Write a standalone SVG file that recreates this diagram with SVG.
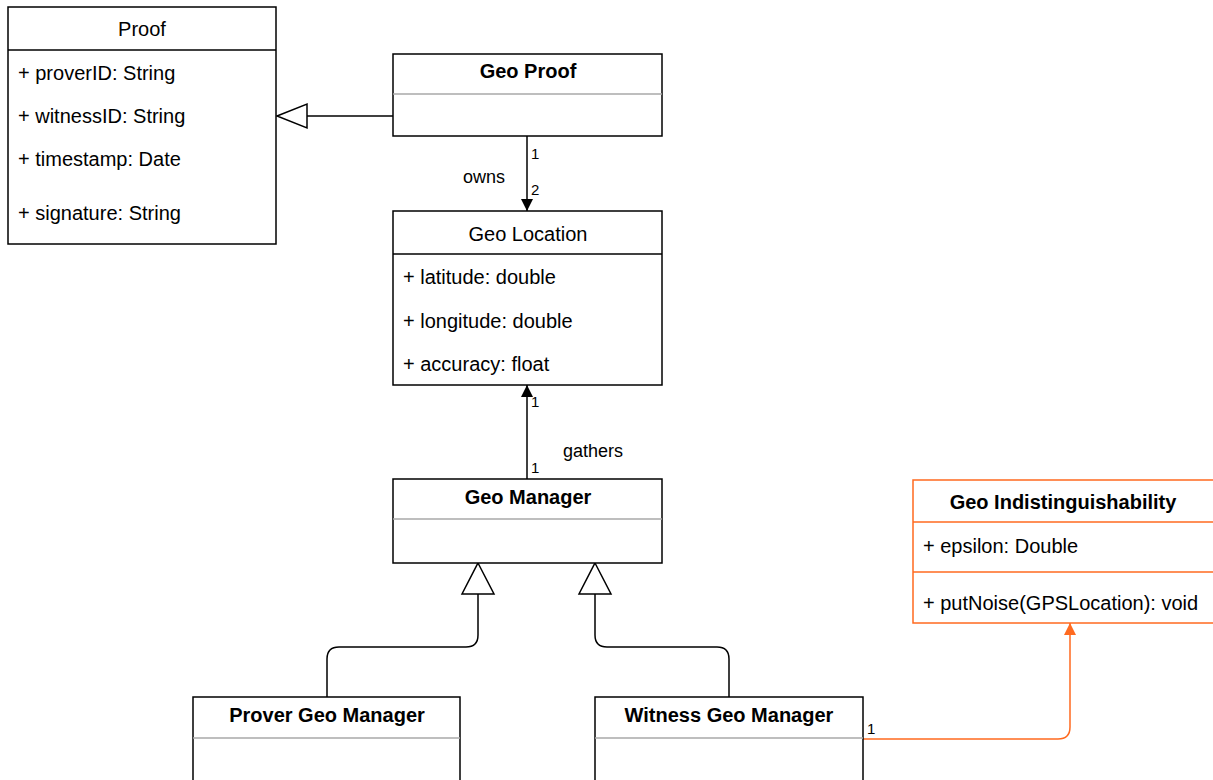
<svg xmlns="http://www.w3.org/2000/svg" width="1213" height="780" viewBox="0 0 1213 780">
  <style>
    .box { fill: #ffffff; stroke: #000000; stroke-width: 1.5; }
    .sep { stroke: #000000; stroke-width: 1.5; }
    .soft { stroke: #a8a8a8; stroke-width: 1.5; }
    .obox { fill: #ffffff; stroke: #ff6a1f; stroke-width: 1.5; }
    .osep { stroke: #ff6a1f; stroke-width: 1.5; }
    text { font-family: "Liberation Sans", Arial, Helvetica, sans-serif; fill: #000000; }
    .title { font-size: 20px; text-anchor: middle; }
    .bold { font-weight: bold; }
    .attr { font-size: 20px; }
    .lbl { font-size: 18px; }
    .mult { font-size: 15px; }
    .edge { fill: none; stroke: #000000; stroke-width: 1.5; }
    .oedge { fill: none; stroke: #ff6a1f; stroke-width: 1.5; }
  </style>
  <defs>
    <marker id="solidArrow" markerWidth="12" markerHeight="14" viewBox="0 0 12 14" refX="12" refY="7" orient="auto" markerUnits="userSpaceOnUse">
      <path d="M0,1 L12,7 L0,13 Z" fill="#000000"/>
    </marker>
    <marker id="solidArrowOrange" markerWidth="12" markerHeight="14" viewBox="0 0 12 14" refX="12" refY="7" orient="auto" markerUnits="userSpaceOnUse">
      <path d="M0,1 L12,7 L0,13 Z" fill="#ff6a1f"/>
    </marker>
  </defs>

  <rect width="1213" height="780" fill="#ffffff"/>

  <!-- connectors -->
  <g id="connectors">
    <!-- Geo Proof generalizes Proof -->
    <line class="edge" x1="393" y1="116" x2="307" y2="116"/>
    <path d="M277,116 L307,104 L307,128 Z" fill="#ffffff" stroke="#000000" stroke-width="1.5"/>

    <!-- owns -->
    <line class="edge" x1="527" y1="136" x2="527" y2="211" marker-end="url(#solidArrow)"/>
    <text class="mult" x="531" y="159">1</text>
    <text class="mult" x="531" y="195">2</text>
    <text class="lbl" x="463" y="183">owns</text>

    <!-- gathers -->
    <line class="edge" x1="527" y1="479" x2="527" y2="385" marker-end="url(#solidArrow)"/>
    <text class="mult" x="531" y="407">1</text>
    <text class="mult" x="531" y="473">1</text>
    <text class="lbl" x="563" y="457">gathers</text>

    <!-- Prover Geo Manager generalizes Geo Manager -->
    <path class="edge" d="M327,697 L327,659 Q327,647 339,647 L466,647 Q478,647 478,635 L478,594"/>
    <path d="M478,563 L494,594 L462,594 Z" fill="#ffffff" stroke="#000000" stroke-width="1.5"/>

    <!-- Witness Geo Manager generalizes Geo Manager -->
    <path class="edge" d="M729,697 L729,659 Q729,647 717,647 L607,647 Q595,647 595,635 L595,594"/>
    <path d="M595,563 L611,594 L579,594 Z" fill="#ffffff" stroke="#000000" stroke-width="1.5"/>

    <!-- Witness Geo Manager uses Geo Indistinguishability -->
    <path class="oedge" d="M863,739 L1058,739 Q1070,739 1070,727 L1070,623" marker-end="url(#solidArrowOrange)"/>
    <text class="mult" x="867" y="734">1</text>
  </g>

  <!-- Proof -->
  <g id="proof">
    <rect class="box" x="8" y="7" width="268" height="237"/>
    <line class="sep" x1="8" y1="50" x2="276" y2="50"/>
    <text class="title" x="142" y="36">Proof</text>
    <text class="attr" x="18" y="80">+ proverID: String</text>
    <text class="attr" x="18" y="123">+ witnessID: String</text>
    <text class="attr" x="18" y="166">+ timestamp: Date</text>
    <text class="attr" x="18" y="220">+ signature: String</text>
  </g>

  <!-- Geo Proof -->
  <g id="geo-proof">
    <rect class="box" x="393" y="54" width="269" height="82"/>
    <line class="soft" x1="393" y1="94" x2="662" y2="94"/>
    <text class="title bold" x="528" y="78">Geo Proof</text>
  </g>

  <!-- Geo Location -->
  <g id="geo-location">
    <rect class="box" x="393" y="211" width="269" height="174"/>
    <line class="sep" x1="393" y1="254" x2="662" y2="254"/>
    <text class="title" x="528" y="241">Geo Location</text>
    <text class="attr" x="403" y="284">+ latitude: double</text>
    <text class="attr" x="403" y="328">+ longitude: double</text>
    <text class="attr" x="403" y="371">+ accuracy: float</text>
  </g>

  <!-- Geo Manager -->
  <g id="geo-manager">
    <rect class="box" x="393" y="479" width="269" height="84"/>
    <line class="soft" x1="393" y1="519" x2="662" y2="519"/>
    <text class="title bold" x="528" y="504">Geo Manager</text>
  </g>

  <!-- Prover Geo Manager -->
  <g id="prover-geo-manager">
    <rect class="box" x="193" y="697" width="267" height="100"/>
    <line class="soft" x1="193" y1="738" x2="460" y2="738"/>
    <text class="title bold" x="327" y="722">Prover Geo Manager</text>
  </g>

  <!-- Witness Geo Manager -->
  <g id="witness-geo-manager">
    <rect class="box" x="595" y="697" width="268" height="100"/>
    <line class="soft" x1="595" y1="738" x2="863" y2="738"/>
    <text class="title bold" x="729" y="722">Witness Geo Manager</text>
  </g>

  <!-- Geo Indistinguishability -->
  <g id="geo-indistinguishability">
    <rect class="obox" x="913" y="480" width="301" height="143"/>
    <line class="osep" x1="913" y1="522" x2="1214" y2="522"/>
    <line class="osep" x1="913" y1="572" x2="1214" y2="572"/>
    <text class="title bold" x="1063" y="509">Geo Indistinguishability</text>
    <text class="attr" x="923" y="553">+ epsilon: Double</text>
    <text class="attr" x="923" y="610">+ putNoise(GPSLocation): void</text>
  </g>
</svg>
